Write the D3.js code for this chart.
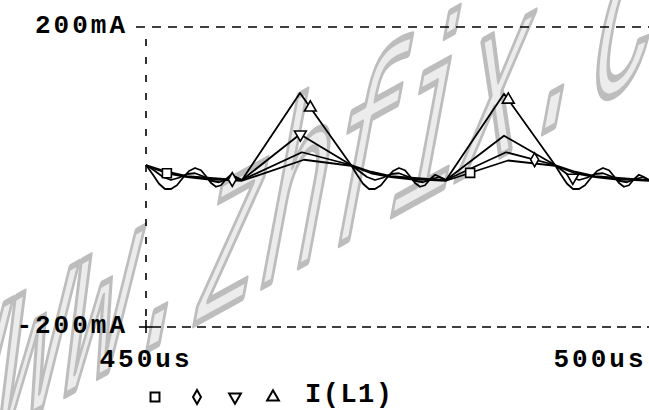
<!DOCTYPE html>
<html>
<head>
<meta charset="utf-8">
<script src="https://cdn.jsdelivr.net/npm/d3@7"></script>
<style>
html, body { margin: 0; padding: 0; background: #fff; overflow: hidden; }
</style>
</head>
<body>
<script>
const width = 649;
const height = 410;

// axis ticks
const xTicks = [450, 500];
const xTickLabels = ["450us", "500us"];
const yTicks = [200, -200];
const yTickLabels = ["200mA", "-200mA"];

// I(L1) for four parameter steps, time in us, current in mA
const tTriUp = [450.0, 450.77, 451.43, 452.09, 452.75, 453.41, 454.07, 454.74, 455.40, 456.06, 456.61, 457.16, 457.71, 458.26, 458.81, 459.36, 459.91, 460.57, 466.96,
    472.58, 473.24, 473.90, 474.56, 475.22, 475.88, 476.54, 477.20, 477.86, 478.52, 479.07, 479.62, 480.18, 480.73, 481.28, 481.83, 482.38, 483.04, 489.43,
    495.04, 495.71, 496.37, 497.03, 497.69, 498.35, 499.01, 499.67, 500.33, 500.99, 501.54, 502.09, 502.64, 503.19, 503.74, 504.29, 504.84, 505.40];
const iTriUp = [16, 3, -9, -16, -16, -11, -1, 8, 12, 9, 1, -8, -13, -11, -3, 3, 0, -4, 112,
    16, 3, -9, -16, -16, -11, -1, 8, 12, 9, 1, -8, -13, -11, -3, 3, 0, -4, 111,
    16, 3, -9, -16, -16, -11, -1, 8, 12, 9, 1, -8, -13, -11, -3, 3, 0, -4];

const tTriDown = [450.0, 450.99, 451.87, 452.75, 453.63, 454.52, 455.40, 456.28, 457.16, 458.04, 458.92, 459.80, 460.57, 466.96,
    472.58, 473.46, 474.34, 475.22, 476.10, 476.98, 477.86, 478.74, 479.62, 480.51, 481.39, 482.27, 483.04, 489.43,
    495.04, 495.92, 496.81, 497.69, 498.57, 499.45, 500.33, 501.21, 502.09, 502.97, 503.85, 504.73, 505.40];
const iTriDown = [16, 8, 0, -4, -1, 4, 5, 1, -5, -7, -3, 0, -4, 57,
    16, 8, 0, -4, -1, 4, 5, 1, -5, -7, -3, 0, -4, 55,
    16, 8, 0, -4, -1, 4, 5, 1, -5, -7, -3, 0, -4];

const tDiamond = [450.0, 452.31, 454.52, 456.72, 458.92, 460.57, 467.18,
    472.58, 474.78, 476.98, 479.18, 481.39, 483.04, 489.65,
    495.04, 497.25, 499.45, 501.65, 503.85, 505.40];
const iDiamond = [16, 7, 1, -1, -3, -4, 33,
    16, 7, 1, -1, -3, -4, 33,
    16, 7, 1, -1, -3, -4];

const tSquare = [450.0, 452.31, 454.52, 456.72, 458.92, 460.57, 467.40,
    472.58, 474.78, 476.98, 479.18, 481.39, 483.04, 489.87,
    495.04, 497.25, 499.45, 501.65, 503.85, 505.40];
const iSquare = [15, 5, 0, -3, -4, -5, 23,
    15, 5, 0, -3, -4, -5, 22,
    15, 5, 0, -3, -4, -5];

// where the probe markers sit on each trace
const markSquare = [452.3, 485.7];
const markDiamond = [459.5, 492.8];
const markTriDown = [467.0, 497.0];
const markTriUp = [468.1, 489.9];

const series = [
    {t: tSquare, i: iSquare, marks: markSquare, shape: "square"},
    {t: tDiamond, i: iDiamond, marks: markDiamond, shape: "diamond"},
    {t: tTriDown, i: iTriDown, marks: markTriDown, shape: "down"},
    {t: tTriUp, i: iTriUp, marks: markTriUp, shape: "up"}
];

const x = d3.scaleLinear().domain([450, 500]).range([146, 600]);
const y = d3.scaleLinear().domain([-200, 200]).range([327, 27]);

const svg = d3.select("body")
    .append("svg")
    .attr("width", width)
    .attr("height", height)
    .attr("viewBox", `0 0 ${width} ${height}`);

// watermark behind everything, outlined grey letters
svg.append("text")
    .attr("transform", "translate(-78,474) matrix(1,-0.55,-0.45,2.4,0,0)")
    .attr("font-family", "Liberation Mono")
    .attr("font-size", 110)
    .attr("fill", "#ececec")
    .attr("stroke", "#bdbdbd")
    .attr("stroke-width", 6)
    .attr("stroke-linejoin", "round")
    .attr("vector-effect", "non-scaling-stroke")
    .text("www.zhfix.c");

const font = "'Liberation Mono', 'DejaVu Sans Mono', monospace";

// frame: dashed lines
const frame = svg.append("g")
    .attr("stroke", "#000")
    .attr("stroke-width", 1.6)
    .attr("fill", "none");

frame.append("line")
    .attr("x1", 136).attr("x2", width)
    .attr("y1", y(200)).attr("y2", y(200))
    .attr("stroke-dasharray", "9,7");
frame.append("line")
    .attr("x1", x(450) + 6).attr("x2", width)
    .attr("y1", y(-200)).attr("y2", y(-200))
    .attr("stroke-dasharray", "9,6");
frame.append("line")
    .attr("x1", x(450)).attr("x2", x(450))
    .attr("y1", y(200) + 12).attr("y2", y(-200) - 6)
    .attr("stroke-dasharray", "7,11");
// corner cross
frame.append("line")
    .attr("x1", x(450) - 7).attr("x2", x(450) + 6)
    .attr("y1", y(-200)).attr("y2", y(-200));
frame.append("line")
    .attr("x1", x(450)).attr("x2", x(450))
    .attr("y1", y(-200) - 7).attr("y2", y(-200) + 6);

// y labels
svg.selectAll(".ylab")
    .data(yTicks)
    .join("text")
    .attr("class", "ylab")
    .attr("x", 128)
    .attr("y", d => y(d) + 6)
    .attr("text-anchor", "end")
    .attr("font-family", font)
    .attr("font-weight", "bold")
    .attr("font-size", 26)
    .attr("letter-spacing", 3)
    .text((d, k) => yTickLabels[k]);

// x labels
svg.selectAll(".xlab")
    .data(xTicks)
    .join("text")
    .attr("class", "xlab")
    .attr("x", d => x(d))
    .attr("y", 367)
    .attr("text-anchor", "middle")
    .attr("font-family", font)
    .attr("font-weight", "bold")
    .attr("font-size", 26)
    .attr("letter-spacing", 3)
    .text((d, k) => xTickLabels[k]);

// traces
const line = d3.line()
    .x(d => x(d[0]))
    .y(d => y(d[1]));

svg.append("g")
    .selectAll("path")
    .data(series)
    .join("path")
    .attr("d", s => line(s.t.map((t, k) => [t, s.i[k]])))
    .attr("fill", "none")
    .attr("stroke", "#000")
    .attr("stroke-width", 1.8)
    .attr("stroke-linejoin", "round");

const symbolPath = {
    square: d3.symbol(d3.symbolSquare, 80)(),
    diamond: d3.symbol(d3.symbolDiamond, 55)(),
    up: d3.symbol(d3.symbolTriangle, 60)(),
    down: d3.symbol(d3.symbolTriangle, 60)()
};

function markerAt(s, t) {
    const k = d3.bisectRight(s.t, t) - 1;
    const f = (t - s.t[k]) / (s.t[k + 1] - s.t[k]);
    return [x(t), y(s.i[k] + f * (s.i[k + 1] - s.i[k]))];
}

const marks = series.flatMap(s => s.marks.map(t => ({shape: s.shape, p: markerAt(s, t)})));

svg.append("g")
    .selectAll("path")
    .data(marks)
    .join("path")
    .attr("d", d => symbolPath[d.shape])
    .attr("transform", d => `translate(${d.p[0]},${d.p[1]})${d.shape === "down" ? " rotate(180)" : ""}`)
    .attr("fill", "#fff")
    .attr("stroke", "#000")
    .attr("stroke-width", 1.6);

// legend
const legendX = [155, 197, 235, 273];
const legend = svg.append("g");
legend.selectAll("path")
    .data(series)
    .join("path")
    .attr("d", s => symbolPath[s.shape])
    .attr("transform", (s, k) => `translate(${legendX[k]},397)${s.shape === "down" ? " rotate(180)" : ""}`)
    .attr("fill", "#fff")
    .attr("stroke", "#000")
    .attr("stroke-width", 2);
legend.append("text")
    .attr("x", 305)
    .attr("y", 402)
    .attr("font-family", font)
    .attr("font-weight", "bold")
    .attr("font-size", 27)
    .attr("letter-spacing", 1.5)
    .text("I(L1)");
</script>
</body>
</html>
